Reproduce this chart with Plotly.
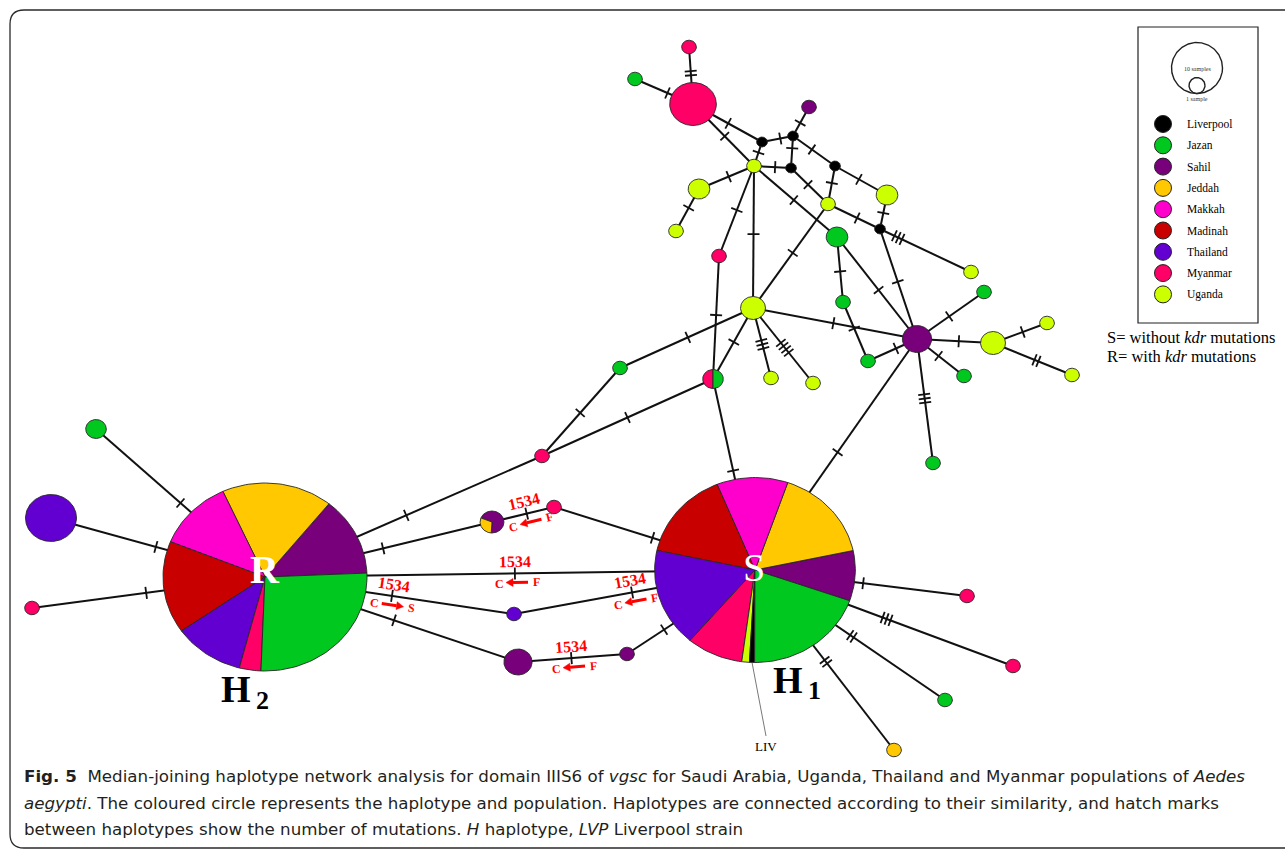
import math
import plotly.graph_objects as go

W, H = 1285, 850
ASPECT = 1.085  # nodes are drawn slightly wider than tall, as in the source figure

# ---------------- populations ----------------
populations = ["Liverpool", "Jazan", "Sahil", "Jeddah", "Makkah", "Madinah", "Thailand", "Myanmar", "Uganda"]
pop_colors = ["#000000", "#00C81E", "#78007A", "#FFC800", "#FF00CC", "#C80000", "#6200D2", "#FF0066", "#CCFF00"]
COLOR = dict(zip(populations, pop_colors))

# ---------------- haplotype nodes (network layout, pixel space) ----------------
node_id = ["m1", "j1", "M", "s1", "b1", "b2", "u1", "b3", "b4", "u2", "u3", "u4", "b5", "u5", "j2",
           "m2", "u6", "j3", "j4", "U", "u7", "S", "u8", "j5", "j6", "mj", "u9", "u10", "j7", "u11",
           "j8", "m3", "j9", "t1", "m4", "H2", "H1", "sj", "m5", "t2", "s2", "s3", "m6", "m7", "j10", "y1"]
node_x = [689, 635, 693, 809, 762, 793, 754, 791, 835, 699, 887, 828, 880, 676, 837,
          719, 971, 984, 843, 753, 1047, 917, 993, 620, 868, 713, 771, 813, 964, 1072,
          933, 542, 96, 51, 32, 265, 755, 492, 554, 514, 518, 627, 967, 1013, 945, 894]
node_y = [47, 79, 104, 107, 142, 136, 166, 168, 166, 189, 195, 204, 229, 231, 237,
          256, 272, 292, 302, 308, 323, 339, 343, 368, 361, 379, 378, 383, 376, 375,
          463, 456, 429, 518, 608, 577, 570, 522, 507, 614, 662, 654, 596, 666, 700, 750]
node_r = [6.8, 6.8, 21.5, 6.8, 5, 5, 6.8, 5, 5, 10, 10, 6.8, 5, 6.8, 10,
          6.8, 6.8, 6.8, 6.8, 11.5, 6.8, 13.5, 11.5, 6.8, 6.8, 9.5, 6.8, 6.8, 6.8, 6.8,
          6.8, 6.8, 9.5, 23.5, 6.8, 94, 92.5, 11, 6.8, 6.8, 13, 6.8, 6.8, 6.8, 6.8, 6.8]
node_pop = ["Myanmar", "Jazan", "Myanmar", "Sahil", "Liverpool", "Liverpool", "Uganda", "Liverpool", "Liverpool",
            "Uganda", "Uganda", "Uganda", "Liverpool", "Uganda", "Jazan",
            "Myanmar", "Uganda", "Jazan", "Jazan", "Uganda", "Uganda", "Sahil", "Uganda", "Jazan", "Jazan",
            "pie", "Uganda", "Uganda", "Jazan", "Uganda",
            "Jazan", "Myanmar", "Jazan", "Thailand", "Myanmar", "pie", "pie", "pie", "Myanmar", "Thailand",
            "Sahil", "Sahil", "Myanmar", "Myanmar", "Jazan", "Jeddah"]

# mixed haplotypes (pie nodes)
pie_node = ["H2", "H1", "sj", "mj"]
pie_start = [2.2, 342.0, 266.0, 90.0]
pie_pops = [["Sahil", "Jeddah", "Makkah", "Madinah", "Thailand", "Myanmar", "Jazan"],
            ["Sahil", "Jeddah", "Makkah", "Madinah", "Thailand", "Myanmar", "Uganda", "Liverpool", "Jazan"],
            ["Sahil", "Jeddah"],
            ["Myanmar", "Jazan"]]
pie_counts = [[3.5, 5.05, 3.25, 4.0, 3.1, 1.0, 7.1],
              [7.3, 14.55, 11.1, 13.7, 14.65, 8.6, 1.2, 0.8, 18.05],
              [7, 3],
              [1, 1]]
pie_letter = {"H2": "R", "H1": "S"}
pie_name = {"H2": ("H", "2"), "H1": ("H", "1")}

# ---------------- links: endpoints, number of mutations, hatch location ----------------
edge_a = ["m1", "j1", "M", "M", "b1", "b1", "b2", "b2", "u1", "b2", "b3", "b4", "b4", "u3", "u4",
          "b5", "u1", "u2", "u1", "u1", "u1", "u4", "b5", "j2", "j2", "j4", "U", "S", "S", "S",
          "S", "S", "S", "u8", "u8", "U", "U", "U", "U", "m2", "mj", "j5", "mj", "m3", "j9",
          "t1", "m4", "H2", "sj", "m5", "H2", "H2", "t2", "H2", "s2", "s3", "H1", "H1", "H1", "H1"]
edge_b = ["M", "M", "b1", "u1", "b2", "u1", "s1", "b3", "b3", "b4", "u4", "u4", "u3", "b5", "b5",
          "u6", "u2", "u5", "m2", "U", "j2", "U", "S", "S", "j4", "j6", "S", "j6", "j3", "u8",
          "j7", "j8", "H1", "u7", "u11", "u9", "u10", "mj", "j5", "mj", "H1", "m3", "m3", "H2", "H2",
          "H2", "H2", "sj", "m5", "H1", "H1", "t2", "H1", "s2", "s3", "H1", "m6", "m7", "j10", "y1"]
edge_n = [2, 1, 1, 1, 1, 1, 1, 1, 1, 1, 1, 1, 1, 1, 1,
          3, 1, 1, 1, 1, 1, 1, 1, 1, 1, 1, 1, 1, 1, 1,
          1, 3, 1, 1, 2, 3, 4, 1, 1, 1, 1, 1, 1, 1, 1,
          1, 1, 1, 1, 1, 1, 1, 1, 1, 1, 1, 1, 3, 2, 2]
edge_t = [.46, .56, .51, .52, .59, .44, .45, .38, .57, .45, .46, .45, .46, .53, .56,
          .20, .46, .45, .49, .48, .48, .47, .48, .52, .53, .45, .49, .43, .48, .55,
          .46, .48, .49, .55, .55, .52, .53, .48, .49, .48, .48, .51, .50, .49, .50,
          .49, .49, .52, .56, .49, .51, .51, .49, .51, .49, .29, .51, .51, .51, .51]

# kdr mutation 1534 labelled links
kdr_links = [("sj", "m5"), ("H2", "H1"), ("H2", "t2"), ("t2", "H1"), ("s2", "s3")]
kdr_site = ["1534", "1534", "1534", "1534", "1534"]
kdr_left = ["C", "C", "C", "C", "C"]
kdr_right = ["F", "F", "S", "F", "F"]
kdr_points_left = [True, True, False, True, True]

legend_sizes = ["10 samples", "1 sample"]
caption_lines = [
    "<b>Fig. 5</b>  Median-joining haplotype network analysis for domain IIIS6 of <i>vgsc</i> for Saudi Arabia, Uganda, Thailand and Myanmar populations of <i>Aedes</i>",
    "<i>aegypti</i>. The coloured circle represents the haplotype and population. Haplotypes are connected according to their similarity, and hatch marks",
    "between haplotypes show the number of mutations. <i>H</i> haplotype, <i>LVP</i> Liverpool strain",
]

SERIF = "Liberation Serif, Times New Roman, serif"
SANS = "DejaVu Sans, Open Sans, sans-serif"
RED = "#FF0000"

fig = go.Figure()
pos = {n: (x, y, r) for n, x, y, r in zip(node_id, node_x, node_y, node_r)}


def rho(rx, ry, phi):
    c, s = math.cos(phi), math.sin(phi)
    return 1.0 / math.sqrt((c / rx) ** 2 + (s / ry) ** 2)


def arc(cx, cy, rx, ry, a0, a1, center=True):
    n = max(10, int(abs(a1 - a0) / 2))
    xs, ys = ([cx], [cy]) if center else ([], [])
    for k in range(n + 1):
        phi = math.radians(a0 + (a1 - a0) * k / n)
        p = rho(rx, ry, phi)
        xs.append(cx + p * math.cos(phi))
        ys.append(cy - p * math.sin(phi))
    if center:
        xs.append(cx)
        ys.append(cy)
    return xs, ys


def poly(xs, ys, fill, lc="#262626", lw=0.9):
    fig.add_trace(go.Scatter(x=xs, y=ys, mode="lines", fill="toself", fillcolor=fill,
                             line=dict(color=lc, width=lw), hoverinfo="skip", showlegend=False))


# links
ex, ey = [], []
for a, b in zip(edge_a, edge_b):
    ex += [pos[a][0], pos[b][0], None]
    ey += [pos[a][1], pos[b][1], None]
fig.add_trace(go.Scatter(x=ex, y=ey, mode="lines", line=dict(color="#111111", width=2),
                         hoverinfo="skip", showlegend=False))

# hatch marks
HL, SP = 6.0, 4.2
hx, hy = [], []
hatch_pt = {}
for a, b, n, t in zip(edge_a, edge_b, edge_n, edge_t):
    x0, y0 = pos[a][:2]
    x1, y1 = pos[b][:2]
    L = math.hypot(x1 - x0, y1 - y0)
    dx, dy = (x1 - x0) / L, (y1 - y0) / L
    px, py = -dy, dx
    mx, my = x0 + t * (x1 - x0), y0 + t * (y1 - y0)
    hatch_pt[(a, b)] = (mx, my, dx, dy)
    for k in range(n):
        off = (k - (n - 1) / 2) * SP
        cx, cy = mx + off * dx, my + off * dy
        hx += [cx - HL * px, cx + HL * px, None]
        hy += [cy - HL * py, cy + HL * py, None]
fig.add_trace(go.Scatter(x=hx, y=hy, mode="lines", line=dict(color="#111111", width=1.8),
                         hoverinfo="skip", showlegend=False))

# single-population nodes
for n, x, y, r, p in zip(node_id, node_x, node_y, node_r, node_pop):
    if p == "pie":
        continue
    xs, ys = arc(x, y, r * ASPECT, r, 0, 360, center=False)
    poly(xs, ys, COLOR[p])

# pie nodes
slice_angles = {}
for n, a0, pops, counts in zip(pie_node, pie_start, pie_pops, pie_counts):
    x, y, r = pos[n]
    tot = sum(counts)
    a = a0
    for p, c in zip(pops, counts):
        span = 360.0 * c / tot
        xs, ys = arc(x, y, r * ASPECT, r, a, a + span)
        poly(xs, ys, COLOR[p], lw=0.9)
        slice_angles[(n, p)] = (a, a + span)
        a += span

# LIV pointer
hx1, hy1, hr1 = pos["H1"]
la, lb = slice_angles[("H1", "Liverpool")]
lm = math.radians((la + lb) / 2)
pr = rho(hr1 * ASPECT, hr1, lm)
liv_xy = (hx1 + 11, hy1 + 176)
fig.add_trace(go.Scatter(x=[hx1 + pr * math.cos(lm), liv_xy[0]],
                         y=[hy1 - pr * math.sin(lm), liv_xy[1] - 10],
                         mode="lines", line=dict(color="#555555", width=0.8),
                         hoverinfo="skip", showlegend=False))

annotations = []


def txt(x, y, s, size, color="#000000", family=SERIF, xanchor="center", angle=0):
    annotations.append(dict(x=x, y=y, xref="x", yref="y", text=s, showarrow=False,
                            font=dict(size=size, color=color, family=family),
                            xanchor=xanchor, yanchor="middle", textangle=angle))


# R / S letters and haplotype names
for n, letter in pie_letter.items():
    x, y, r = pos[n]
    if letter == "R":
        txt(x, y - 8, "<b>R</b>", 40, "#FFFFFF")
    else:
        txt(x - 1, y - 3, "S", 40, "#FFFFFF")
x2, y2, r2 = pos["H2"]
txt(x2 - 12, y2 + r2 + 18, "<b>" + pie_name["H2"][0] + "</b>", 38, xanchor="right")
txt(x2 - 11, y2 + r2 + 29, "<b>" + pie_name["H2"][1] + "</b>", 26, xanchor="left")
x1_, y1_, r1_ = pos["H1"]
txt(x1_ + 50, y1_ + r1_ + 17, "<b>" + pie_name["H1"][0] + "</b>", 38, xanchor="right")
txt(x1_ + 51, y1_ + r1_ + 28, "<b>" + pie_name["H1"][1] + "</b>", 26, xanchor="left")
txt(liv_xy[0], liv_xy[1], "LIV", 13)

# kdr 1534 labels with arrows (shaft + triangular head)
sx, sy = [], []
for (a, b), site, cl, cr, to_left in zip(kdr_links, kdr_site, kdr_left, kdr_right, kdr_points_left):
    mx, my, dx, dy = hatch_pt[(a, b)]
    nx, ny = dy, -dx  # "up" normal
    ang = math.degrees(math.atan2(dy, dx))
    txt(mx + 12 * nx, my + 12 * ny, "<b>" + site + "</b>", 16, RED, angle=ang)
    txt(mx - 16 * dx - 10 * nx, my - 16 * dy - 10 * ny, "<b>" + cl + "</b>", 12, RED, angle=ang)
    txt(mx + 21 * dx - 9 * nx, my + 21 * dy - 9 * ny, "<b>" + cr + "</b>", 12, RED, angle=ang)
    p_left = (mx - 9 * dx - 9 * nx, my - 9 * dy - 9 * ny)
    p_right = (mx + 13 * dx - 9 * nx, my + 13 * dy - 9 * ny)
    head, tail = (p_left, p_right) if to_left else (p_right, p_left)
    ux, uy = head[0] - tail[0], head[1] - tail[1]
    ul = math.hypot(ux, uy)
    ux, uy = ux / ul, uy / ul
    base = (head[0] - 7 * ux, head[1] - 7 * uy)
    sx += [tail[0], base[0], None]
    sy += [tail[1], base[1], None]
    tri_x = [head[0], base[0] - 4 * uy, base[0] + 4 * uy, head[0]]
    tri_y = [head[1], base[1] + 4 * ux, base[1] - 4 * ux, head[1]]
    poly(tri_x, tri_y, RED, lc=RED, lw=0.5)
fig.add_trace(go.Scatter(x=sx, y=sy, mode="lines", line=dict(color=RED, width=3),
                         hoverinfo="skip", showlegend=False))

# ---------------- legend ----------------
LX0, LY0, LX1, LY1 = 1138, 27, 1258, 323
bx, by = 1197, 68
xs, ys = arc(bx, by, 25.5, 25.5, 0, 360, center=False)
fig.add_trace(go.Scatter(x=xs, y=ys, mode="lines", line=dict(color="#222222", width=1.4),
                         hoverinfo="skip", showlegend=False))
xs, ys = arc(bx, by + 17.5, 8, 8, 0, 360, center=False)
poly(xs, ys, "#FFFFFF", lc="#222222", lw=1.4)
txt(bx, by + 1, legend_sizes[0], 6, "#333333")
txt(bx, by + 31, legend_sizes[1], 6, "#333333")

leg_y = [124 + i * 21.3 for i in range(len(populations))]
fig.add_trace(go.Scatter(x=[1163] * len(populations), y=leg_y, mode="markers",
                         marker=dict(size=17, color=pop_colors, line=dict(color="#222222", width=1)),
                         hoverinfo="skip", showlegend=False))
for p, yy in zip(populations, leg_y):
    txt(1185, yy, p, 11.5, xanchor="left")

txt(1105, 337, "S= without <i>kdr</i> mutations", 16.5, xanchor="left")
txt(1105, 356, "R= with <i>kdr</i> mutations", 16.5, xanchor="left")

# caption
for i, line in enumerate(caption_lines):
    txt(22, 776 + i * 26.5, line, 16.7, "#231F20", family=SANS, xanchor="left")

shapes = [
    dict(type="path", xref="x", yref="y",
         path="M 1295 10 L 24 10 Q 10 10 10 24 L 10 834 Q 10 848 24 848 L 1295 848",
         line=dict(color="#2A2A2A", width=1.3)),
    dict(type="rect", xref="x", yref="y", x0=LX0, y0=LY0, x1=LX1, y1=LY1,
         line=dict(color="#222222", width=1.2)),
]

fig.update_layout(
    width=W, height=H, margin=dict(l=0, r=0, t=0, b=0),
    paper_bgcolor="#FFFFFF", plot_bgcolor="#FFFFFF",
    xaxis=dict(range=[0, W], visible=False, fixedrange=True),
    yaxis=dict(range=[H, 0], visible=False, fixedrange=True),
    annotations=annotations, shapes=shapes, showlegend=False,
)
fig.write_html("out.html", config={"displayModeBar": False},
               post_script="document.body.style.margin='0px';document.body.style.overflow='hidden';")
